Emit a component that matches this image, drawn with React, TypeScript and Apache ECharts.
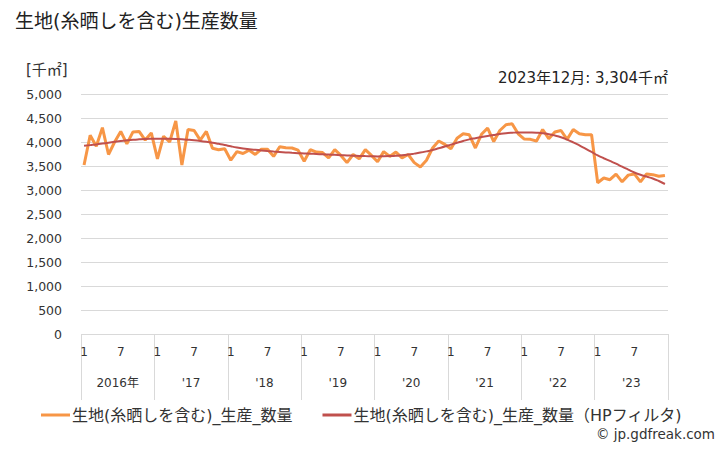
import React, { useEffect, useRef } from "react";
import * as echarts from "echarts";

const years = ["2016年", "'17", "'18", "'19", "'20", "'21", "'22", "'23"];

const production2016 = [3520, 4140, 3910, 4300, 3740, 4000, 4220, 3960, 4210, 4220, 4040, 4190];
const production2017 = [3650, 4120, 4000, 4440, 3520, 4260, 4240, 4040, 4220, 3870, 3840, 3860];
const production2018 = [3620, 3800, 3760, 3830, 3740, 3850, 3850, 3700, 3900, 3880, 3875, 3830];
const production2019 = [3600, 3840, 3790, 3780, 3670, 3840, 3720, 3570, 3740, 3650, 3840, 3720];
const production2020 = [3590, 3800, 3700, 3790, 3670, 3740, 3570, 3480, 3620, 3875, 4020, 3950];
const production2021 = [3860, 4080, 4170, 4150, 3875, 4160, 4290, 4010, 4240, 4360, 4380, 4170];
const production2022 = [4060, 4055, 4020, 4260, 4070, 4210, 4240, 4055, 4260, 4170, 4150, 4150];
const production2023 = [3150, 3250, 3215, 3330, 3170, 3310, 3335, 3170, 3335, 3320, 3285, 3304];

const trend2016 = [3920, 3935, 3950, 3967, 3985, 4003, 4020, 4034, 4046, 4055, 4062, 4066];
const trend2017 = [4068, 4068, 4066, 4062, 4056, 4047, 4036, 4022, 4005, 3985, 3962, 3938];
const trend2018 = [3910, 3885, 3865, 3850, 3837, 3825, 3813, 3802, 3792, 3783, 3775, 3768];
const trend2019 = [3762, 3756, 3750, 3744, 3738, 3732, 3726, 3720, 3715, 3710, 3706, 3703];
const trend2020 = [3700, 3702, 3706, 3712, 3722, 3738, 3758, 3780, 3805, 3832, 3868, 3905];
const trend2021 = [3945, 3983, 4020, 4055, 4080, 4103, 4125, 4147, 4167, 4183, 4193, 4199];
const trend2022 = [4200, 4198, 4193, 4183, 4163, 4135, 4100, 4050, 3993, 3930, 3862, 3792];
const trend2023 = [3720, 3662, 3605, 3548, 3485, 3425, 3365, 3318, 3278, 3240, 3187, 3125];

const production = [
  ...production2016, ...production2017, ...production2018, ...production2019,
  ...production2020, ...production2021, ...production2022, ...production2023,
];
const trend = [
  ...trend2016, ...trend2017, ...trend2018, ...trend2019,
  ...trend2020, ...trend2021, ...trend2022, ...trend2023,
];

const months: string[] = [];
for (let y = 0; y < years.length; y++) {
  for (let m = 1; m <= 12; m++) months.push(`${2016 + y}/${m}`);
}

const seriesNames = ["生地(糸晒しを含む)_生産_数量", "生地(糸晒しを含む)_生産_数量（HPフィルタ)"];
const titleText = "生地(糸晒しを含む)生産数量";
const unitText = "[千㎡]";
const noteText = "2023年12月: 3,304千㎡";
const creditText = "© jp.gdfreak.com";

const FONT = "'DejaVu Sans', 'Noto Sans CJK JP', sans-serif";

export default function App() {
  const ref = useRef<HTMLDivElement>(null);
  useEffect(() => {
    if (!ref.current) return;
    const chart = echarts.init(ref.current, undefined, { renderer: "svg" });
    chart.setOption({
      animation: false,
      backgroundColor: "#ffffff",
      textStyle: { fontFamily: FONT },
      title: {
        text: titleText,
        left: 10,
        top: 6,
        textStyle: { fontSize: 19, fontWeight: "normal", color: "#222", fontFamily: FONT },
      },
      graphic: [
        {
          type: "text",
          left: 26,
          top: 62,
          style: { text: unitText, fontSize: 15, fill: "#333", fontFamily: FONT },
        },
        {
          type: "text",
          right: 60,
          top: 70,
          style: { text: noteText, fontSize: 15, fill: "#222", fontFamily: FONT },
        },
        {
          type: "text",
          right: 13,
          top: 427,
          style: { text: creditText, fontSize: 13.5, fill: "#333", fontFamily: FONT },
        },
      ],
      legend: {
        left: 36,
        top: 404,
        padding: [2, 5, 2, 5],
        itemWidth: 29,
        itemHeight: 3,
        itemGap: 30,
        icon: "rect",
        textStyle: { fontSize: 16, lineHeight: 18, color: "#333", fontFamily: FONT, padding: [0, 0, 0, -3] },
        data: seriesNames,
      },
      grid: { left: 81, right: 60, top: 94, bottom: 116, containLabel: false },
      xAxis: [
        {
          type: "category",
          data: months,
          boundaryGap: true,
          axisLine: { show: false },
          axisTick: { show: false },
          axisLabel: {
            interval: (i: number) => i % 6 === 0,
            formatter: (v: string) => v.split("/")[1],
            fontSize: 12,
            color: "#333",
            margin: 12,
            fontFamily: FONT,
          },
        },
        {
          type: "category",
          data: years,
          position: "bottom",
          boundaryGap: true,
          axisLine: { show: false },
          axisTick: {
            show: true,
            interval: 0,
            length: 66,
            inside: false,
            lineStyle: { color: "#d9d9d9", width: 1 },
          },
          axisLabel: { interval: 0, fontSize: 12, color: "#333", margin: 43, fontFamily: FONT },
        },
      ],
      yAxis: {
        type: "value",
        min: 0,
        max: 5000,
        interval: 500,
        axisLine: { show: false },
        axisTick: { show: false },
        splitLine: { lineStyle: { color: "#d9d9d9", width: 1 } },
        axisLabel: {
          fontSize: 12.5,
          color: "#333",
          margin: 19,
          fontFamily: FONT,
          formatter: (v: number) => v.toLocaleString("en-US"),
        },
      },
      series: [
        {
          name: seriesNames[0],
          type: "line",
          data: production,
          xAxisIndex: 0,
          showSymbol: false,
          symbol: "none",
          lineStyle: { color: "#f79646", width: 3 },
          itemStyle: { color: "#f79646" },
        },
        {
          name: seriesNames[1],
          type: "line",
          data: trend,
          xAxisIndex: 0,
          showSymbol: false,
          symbol: "none",
          smooth: true,
          lineStyle: { color: "#c0504d", width: 2 },
          itemStyle: { color: "#c0504d" },
        },
      ],
    });
    return () => chart.dispose();
  }, []);
  return <div ref={ref} style={{ width: 728, height: 450, margin: -8 }} />;
}
